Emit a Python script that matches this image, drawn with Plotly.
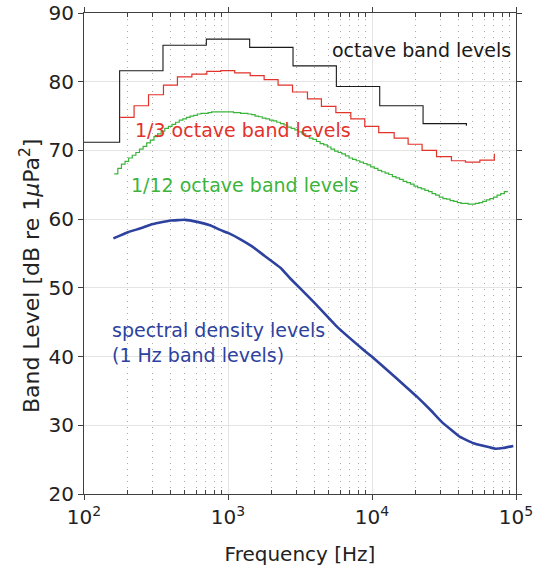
import plotly.graph_objects as go

# ---------------- data ----------------
# octave bands: nominal centre frequencies [Hz] and band levels [dB]
octave_centres = [125, 250, 500, 1000, 2000, 4000, 8000, 16000, 32000]
octave_levels = [71.2, 81.6, 85.3, 86.2, 85.0, 82.3, 79.3, 76.5, 73.9]
octave_end_level = 73.6

# 1/3-octave bands
third_centres = [200, 250, 315, 400, 500, 630, 800, 1000, 1250, 1600, 2000, 2500,
                 3150, 4000, 5000, 6300, 8000, 10000, 12500, 16000, 20000, 25000,
                 31500, 40000, 50000, 63000]
third_levels = [74.8, 76.5, 78.1, 79.5, 80.7, 81.1, 81.5, 81.6, 81.3, 80.9, 80.3, 79.5,
                78.5, 77.5, 76.4, 75.5, 74.6, 73.5, 72.6, 71.8, 70.9, 70.0,
                69.1, 68.5, 68.3, 68.6]
third_end_level = 69.5

# 1/12-octave bands: band numbers k (centre = 1 kHz * 2^(k/12)) and levels
twelfth_band_numbers = list(range(-31, 78))
twelfth_levels = [
    66.6, 67.4, 68.0, 68.4, 68.9, 69.3, 69.7, 70.2, 70.6, 71.1,
    71.5, 72.0, 72.4, 72.8, 73.2, 73.5, 73.8, 74.1, 74.4, 74.6,
    74.8, 75.0, 75.1, 75.3, 75.4, 75.4, 75.5, 75.6, 75.6, 75.6,
    75.6, 75.6, 75.6, 75.5, 75.5, 75.4, 75.4, 75.3, 75.2, 75.0,
    74.9, 74.7, 74.6, 74.4, 74.3, 74.1, 73.9, 73.7, 73.4, 73.2,
    73.0, 72.7, 72.4, 72.1, 71.8, 71.6, 71.3, 71.0, 70.8, 70.5,
    70.2, 69.9, 69.7, 69.5, 69.2, 68.9, 68.7, 68.5, 68.3, 68.1,
    67.9, 67.6, 67.4, 67.1, 66.9, 66.7, 66.5, 66.2, 66.0, 65.8,
    65.5, 65.3, 65.1, 64.8, 64.6, 64.4, 64.2, 64.0, 63.7, 63.5,
    63.2, 63.0, 62.9, 62.7, 62.6, 62.4, 62.3, 62.3, 62.2, 62.2,
    62.3, 62.4, 62.6, 62.8, 63.0, 63.2, 63.5, 63.7, 64.0,
]

# spectral density level (1 Hz band level)
spectral_freqs = [160, 202, 250, 290, 337, 400, 503, 612, 750, 890, 1000, 1211, 1450,
                  1758, 2323, 2697, 3911, 5686, 8707, 9955, 14850, 20430, 25290,
                  30480, 40830, 50500, 71450, 81620, 95780]
spectral_levels = [57.2, 58.1, 58.7, 59.2, 59.5, 59.8, 59.9, 59.6, 59.1, 58.4, 58.0, 57.1, 56.1,
                   54.8, 52.9, 51.4, 48.0, 44.4, 41.0, 40.0, 36.8, 34.2, 32.3,
                   30.5, 28.3, 27.4, 26.6, 26.7, 27.0]

x_tick_vals = [1e2, 1e3, 1e4, 1e5]
x_tick_text = ["10<sup>2</sup>", "10<sup>3</sup>", "10<sup>4</sup>", "10<sup>5</sup>"]
y_tick_vals = [20, 30, 40, 50, 60, 70, 80, 90]

# ---------------- styling ----------------
FONT = "DejaVu Sans"
BLACK = "#1a1a1a"
RED = "#e2322a"
GREEN = "#3cb43c"
BLUE = "#2d419e"
AXIS = "#404040"
TXT = "#222222"


def stairs(centres, levels, half_width, end_level):
    """band edges (lower edges + last upper edge) for an hv step line"""
    xs = [c * 2 ** (-half_width) for c in centres] + [centres[-1] * 2 ** half_width]
    ys = list(levels) + [end_level]
    return xs, ys


fig = go.Figure()

ox, oy = stairs(octave_centres, octave_levels, 0.5, octave_end_level)
fig.add_trace(go.Scatter(x=ox, y=oy, mode="lines", line=dict(color=BLACK, width=1.1, shape="hv"),
                         showlegend=False, hoverinfo="skip"))

tx, ty = stairs(third_centres, third_levels, 1 / 6, third_end_level)
fig.add_trace(go.Scatter(x=tx, y=ty, mode="lines", line=dict(color=RED, width=1.2, shape="hv"),
                         showlegend=False, hoverinfo="skip"))

twelfth_centres = [1000 * 2 ** (k / 12) for k in twelfth_band_numbers]
gx, gy = stairs(twelfth_centres, twelfth_levels, 1 / 24, twelfth_levels[-1])
fig.add_trace(go.Scatter(x=gx, y=gy, mode="lines", line=dict(color=GREEN, width=1.2, shape="hv"),
                         showlegend=False, hoverinfo="skip"))

fig.add_trace(go.Scatter(x=spectral_freqs, y=spectral_levels, mode="lines",
                         line=dict(color=BLUE, width=2.6, shape="spline", smoothing=0.25),
                         showlegend=False, hoverinfo="skip"))

# text labels
labels = [
    ("octave band levels", 3.708, 84.6, BLACK),
    ("1/3 octave band levels", 2.342, 73.0, RED),
    ("1/12 octave band levels", 2.315, 64.9, GREEN),
    ("spectral density levels<br>(1 Hz band levels)", 2.181, 42.0, BLUE),
]
for text, lx, ly, col in labels:
    fig.add_annotation(x=lx, y=ly, xref="x", yref="y", text=text, showarrow=False,
                       xanchor="left", yanchor="middle", align="left",
                       font=dict(family=FONT, size=19, color=col))

# y-axis title as rotated annotation (to control its position)
fig.add_annotation(x=-0.125, y=0.453, xref="paper", yref="paper",
                   text="Band Level [dB re 1<i>μ</i>Pa<sup>2</sup>]", textangle=-90,
                   showarrow=False, xanchor="center", yanchor="middle",
                   font=dict(family=FONT, size=22, color=TXT))

minor_vals = [m * 10 ** e for e in range(2, 5) for m in range(2, 10)]

fig.update_xaxes(
    type="log", range=[2, 5],
    tickmode="array", tickvals=x_tick_vals, ticktext=x_tick_text,
    ticks="outside", ticklen=5, tickcolor=AXIS, tickwidth=1,
    showline=True, linecolor=AXIS, linewidth=1, mirror="allticks",
    showgrid=True, gridcolor="#e4e4e4", gridwidth=1,
    minor=dict(tickmode="array", tickvals=minor_vals, ticks="inside", ticklen=4,
               tickcolor=AXIS, showgrid=True, gridcolor="#ababab", griddash="1px,5px", gridwidth=1),
    zeroline=False,
    tickfont=dict(family=FONT, size=20, color=TXT),
    title=dict(text="Frequency [Hz]", font=dict(family=FONT, size=20, color=TXT), standoff=18),
)
fig.update_yaxes(
    range=[20, 90], tickmode="array", tickvals=y_tick_vals,
    ticks="outside", ticklen=5, tickcolor=AXIS, tickwidth=1,
    showline=True, linecolor=AXIS, linewidth=1, mirror="allticks",
    showgrid=True, gridcolor="#e4e4e4", gridwidth=1,
    zeroline=False,
    tickfont=dict(family=FONT, size=20, color=TXT),
)

fig.update_layout(
    width=540, height=568,
    margin=dict(l=84, r=24, t=13, b=74, autoexpand=False),
    plot_bgcolor="white", paper_bgcolor="white",
)

fig.write_html("out.html")
